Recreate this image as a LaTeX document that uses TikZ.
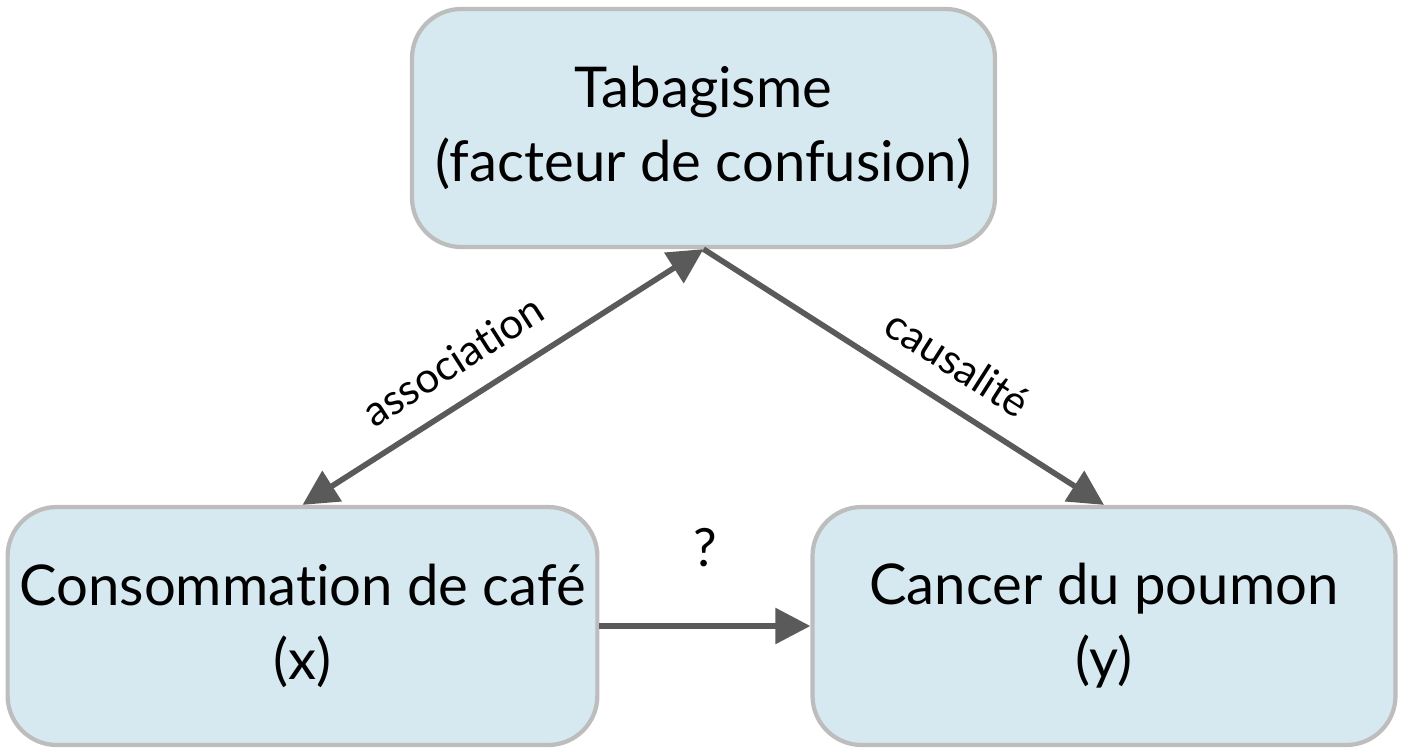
\documentclass[tikz,border=0pt]{standalone}
\usepackage{fontspec}
\setmainfont{Lato}[Ligatures=NoCommon]
\usetikzlibrary{arrows.meta}
\definecolor{boxfill}{HTML}{D6E8F0}
\definecolor{boxdraw}{HTML}{BDBDBD}
\definecolor{arrowgray}{HTML}{5A5A5A}
\tikzset{
  bloc/.style={draw=boxdraw, line width=1.2pt, fill=boxfill, rounded corners=14pt,
    minimum width=5.83cm, minimum height=2.38cm, align=center, font=\fontsize{16}{21}\selectfont},
  fleche/.style={draw=arrowgray, line width=1.6pt, -{Triangle[length=10pt,width=10pt]}},
  etiquette/.style={font=\fontsize{12}{14}\selectfont, sloped, above=3pt}
}
\begin{document}
\begin{tikzpicture}
                \useasboundingbox (0,0) rectangle (14.08,7.52);
                % Boxes
                \node[bloc] (tabac) at (7.035,6.24) {Tabagisme\\(facteur de confusion)};
                \node[bloc] (cafe) at (3.025,1.26) {Consommation de café\\(x)};
                \node[bloc] (cancer) at (11.04,1.26) {Cancer du poumon\\(y)};
                
                % Links
                \draw[fleche, {Triangle[length=10pt,width=10pt]}-{Triangle[length=10pt,width=10pt]}]
                    (cafe.north) -- node[etiquette, pos=0.43] {association} (tabac.south);
                \draw[fleche] (tabac.south) -- node[etiquette, pos=0.58] {causalité} (cancer.north);
                \draw[fleche] (cafe.east) -- node[above=0.45cm, font=\fontsize{15}{17}\selectfont] (q) {?} (cancer.west);
            \end{tikzpicture}
\end{document}
